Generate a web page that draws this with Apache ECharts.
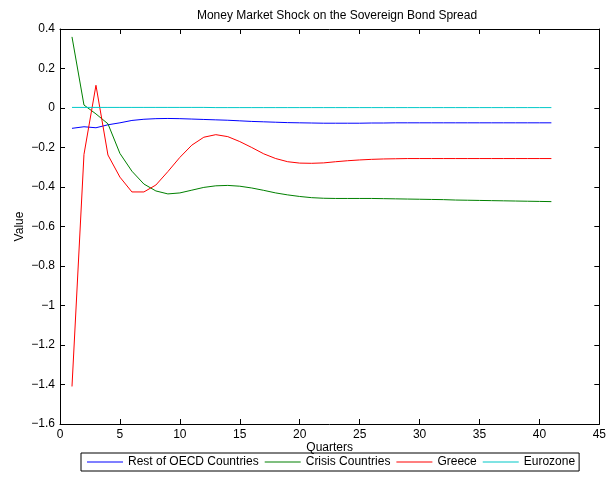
<!DOCTYPE html>
<html><head><meta charset="utf-8">
<script src="https://cdn.jsdelivr.net/npm/echarts@6/dist/echarts.min.js"></script>
<style>html,body{margin:0;padding:0;background:#fff}#c{width:609px;height:478px}</style>
</head><body><div id="c"></div>
<script>
const quarters = [1,2,3,4,5,6,7,8,9,10,11,12,13,14,15,16,17,18,19,20,21,22,23,24,25,26,27,28,29,30,31,32,33,34,35,36,37,38,39,40,41];
const restOECD = [-0.103,-0.095,-0.100,-0.085,-0.075,-0.063,-0.057,-0.054,-0.053,-0.054,-0.056,-0.058,-0.060,-0.062,-0.065,-0.068,-0.070,-0.072,-0.074,-0.075,-0.076,-0.077,-0.077,-0.077,-0.077,-0.076,-0.076,-0.075,-0.075,-0.075,-0.075,-0.075,-0.075,-0.075,-0.075,-0.075,-0.075,-0.075,-0.075,-0.075,-0.075];
const crisis = [0.36,0.015,-0.03,-0.08,-0.23,-0.32,-0.385,-0.42,-0.435,-0.43,-0.416,-0.402,-0.394,-0.392,-0.396,-0.405,-0.417,-0.43,-0.44,-0.448,-0.454,-0.457,-0.458,-0.458,-0.458,-0.458,-0.459,-0.46,-0.461,-0.462,-0.463,-0.464,-0.466,-0.467,-0.468,-0.469,-0.47,-0.471,-0.472,-0.473,-0.474];
const greece = [-1.41,-0.235,0.115,-0.238,-0.35,-0.425,-0.425,-0.39,-0.322,-0.25,-0.188,-0.148,-0.135,-0.145,-0.17,-0.2,-0.232,-0.256,-0.272,-0.279,-0.28,-0.278,-0.272,-0.267,-0.263,-0.26,-0.258,-0.257,-0.256,-0.256,-0.256,-0.256,-0.256,-0.256,-0.256,-0.256,-0.256,-0.256,-0.256,-0.256,-0.256];
const eurozone = [0.003,0.003,0.003,0.003,0.003,0.003,0.003,0.003,0.003,0.003,0.003,0.003,0.002,0.002,0.002,0.002,0.002,0.002,0.002,0.002,0.002,0.002,0.002,0.002,0.002,0.002,0.002,0.002,0.002,0.002,0.002,0.002,0.002,0.002,0.002,0.002,0.002,0.002,0.002,0.002,0.002];
const seriesNames = ['Rest of OECD Countries','Crisis Countries','Greece','Eurozone'];
const seriesColors = ['#0000ff','#008000','#ff0000','#00c8c8'];
const seriesData = [restOECD, crisis, greece, eurozone];
const xTicks = {min:0, max:45, interval:5};
const yTicks = {min:-1.6, max:0.4, interval:0.2};

const font = 'Liberation Sans, Arial, Helvetica, sans-serif';
const chart = echarts.init(document.getElementById('c'), null, {renderer:'canvas'});
function mkAxis(extra){
  return Object.assign({
    axisLine:{show:true, onZero:false, lineStyle:{color:'#000', width:1}},
    axisTick:{show:true, inside:true, length:5, lineStyle:{color:'#000', width:1}},
    splitLine:{show:false},
    axisLabel:{show:true, color:'#000', fontFamily:font, fontSize:12},
    nameTextStyle:{color:'#000', fontFamily:font, fontSize:12},
    nameMoveOverlap:false
  }, extra);
}
chart.setOption({
  animation:false,
  backgroundColor:'#fff',
  title:{text:'Money Market Shock on the Sovereign Bond Spread', left:332, top:5, textAlign:'center',
    textStyle:{fontFamily:font, fontSize:12, fontWeight:'normal', color:'#000'}},
  grid:{left:60, right:6, top:29, bottom:54, containLabel:false},
  legend:{data:seriesNames, left:81, top:453, icon:'rect', itemWidth:36, itemHeight:1, itemGap:6,
    padding:[3,4,3,6], borderColor:'#000', borderWidth:1,
    textStyle:{fontFamily:font, fontSize:12, color:'#000'}},
  xAxis:[
    mkAxis({type:'value', position:'bottom', min:xTicks.min, max:xTicks.max, interval:xTicks.interval,
      name:'Quarters', nameLocation:'middle', nameGap:18,
      axisLabel:{show:true, color:'#000', fontFamily:font, fontSize:12, margin:5}}),
    mkAxis({type:'value', position:'top', min:xTicks.min, max:xTicks.max, interval:xTicks.interval,
      axisLabel:{show:false}})
  ],
  yAxis:[
    mkAxis({type:'value', position:'left', min:yTicks.min, max:yTicks.max, interval:yTicks.interval,
      name:'Value', nameLocation:'middle', nameGap:34,
      axisLabel:{show:true, color:'#000', fontFamily:font, fontSize:12, margin:5,
        formatter:v=>{const r=Math.round(v*10)/10; return String(r).replace('-','\u2212');}}}),
    mkAxis({type:'value', position:'right', min:yTicks.min, max:yTicks.max, interval:yTicks.interval,
      axisLabel:{show:false}})
  ],
  series: seriesNames.map((n,i)=>({
    name:n, type:'line', xAxisIndex:0, yAxisIndex:0, showSymbol:false, symbol:'none', z:3,
    lineStyle:{color:seriesColors[i], width:1}, itemStyle:{color:seriesColors[i]},
    data: quarters.map((q,k)=>[q, seriesData[i][k]])
  }))
});
</script></body></html>
